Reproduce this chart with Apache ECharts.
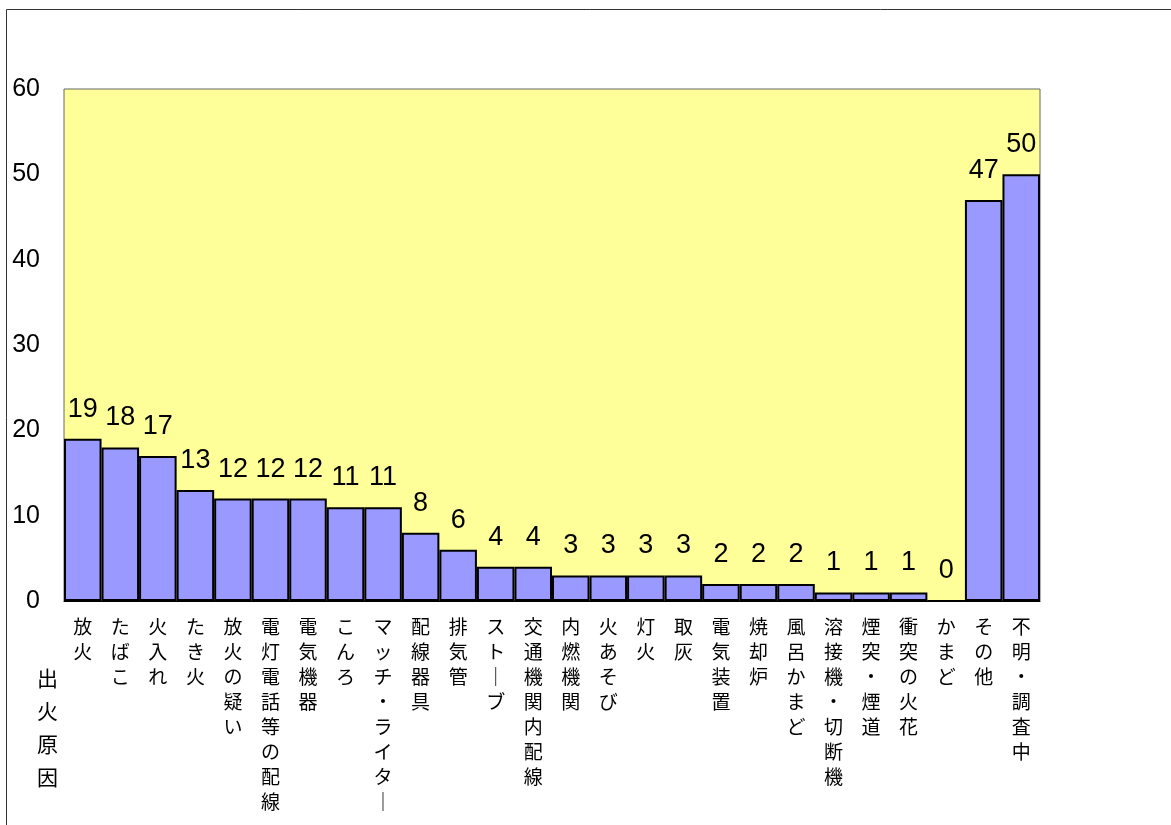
<!DOCTYPE html>
<html>
<head>
<meta charset="utf-8">
<script src="https://cdn.jsdelivr.net/npm/echarts@6/dist/echarts.min.js"></script>
<style>
html,body{margin:0;padding:0;background:#fff;overflow:hidden;}
#chart{width:1171px;height:825px;}
</style>
</head>
<body>
<div id="chart"></div>
<script>
const categories = ['放火','たばこ','火入れ','たき火','放火の疑い','電灯電話等の配線','電気機器','こんろ','マッチ・ライター','配線器具','排気管','ストーブ','交通機関内配線','内燃機関','火あそび','灯火','取灰','電気装置','焼却炉','風呂かまど','溶接機・切断機','煙突・煙道','衝突の火花','かまど','その他','不明・調査中'];
const counts = [19,18,17,13,12,12,12,11,11,8,6,4,4,3,3,3,3,2,2,2,1,1,1,0,47,50];
const yTicks = {min:0, max:60, interval:10};
const axisTitle = '出火原因';

const chart = echarts.init(document.getElementById('chart'));
const vert = s => s.split('').map(c => c === 'ー' ? '｜' : c).join('\n');
chart.setOption({
  animation:false,
  backgroundColor:'#ffffff',
  grid:{left:64,width:976,top:89,height:512,outerBoundsMode:'none',containLabel:false,show:true,backgroundColor:'#FFFF99',borderColor:'#666',borderWidth:1},
  xAxis:{
    type:'category',
    data:categories,
    axisLine:{show:true,lineStyle:{color:'#000',width:1}},
    axisTick:{show:false},
    axisLabel:{
      interval:0,
      margin:13,
      color:'#000',
      fontSize:19,
      lineHeight:25,
      verticalAlign:'top',
      fontFamily:'"Noto Sans CJK JP", sans-serif',
      formatter:v => vert(v)
    }
  },
  yAxis:{
    type:'value',
    min:yTicks.min, max:yTicks.max, interval:yTicks.interval,
    axisLine:{show:false},
    axisTick:{show:false},
    splitLine:{show:false},
    axisLabel:{color:'#000',fontSize:25,margin:24,fontFamily:'"Liberation Sans", Arial, sans-serif'}
  },
  series:[{
    type:'bar',
    data:counts,
    barCategoryGap:'0%',
    itemStyle:{color:'#9999FF',borderColor:'#000',borderWidth:2},
    label:{
      show:true,
      position:'top',
      distance:16,
      color:'#000',
      fontSize:27,
      fontFamily:'"Liberation Sans", Arial, sans-serif'
    }
  }],
  graphic:[
    {type:'rect',shape:{x:6.5,y:9.5,width:1200,height:900},style:{fill:'none',stroke:'#333',lineWidth:1},silent:true},
    {type:'text',left:37,top:662,style:{text:vert(axisTitle),fontSize:21,lineHeight:33,fill:'#000',fontFamily:'"Noto Sans CJK JP", sans-serif'}}
  ]
});
</script>
</body>
</html>
